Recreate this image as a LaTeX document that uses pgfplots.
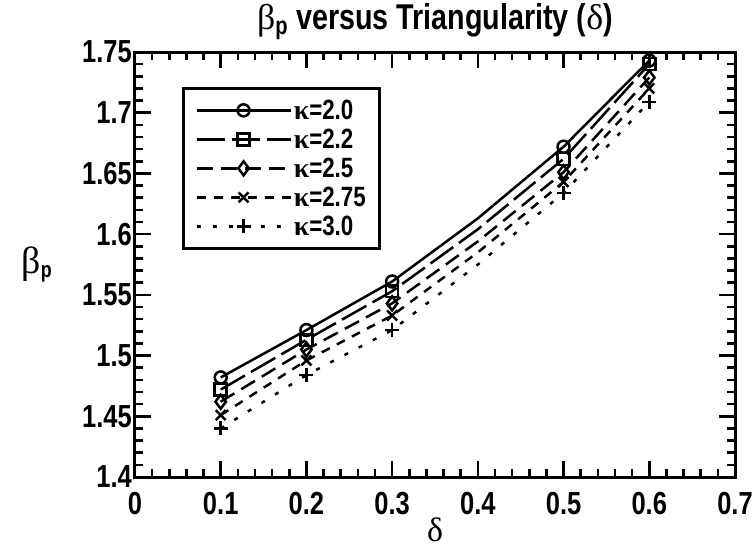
\documentclass[border=0pt]{standalone}
\usepackage{pgfplots}
\pgfplotsset{compat=1.18}
\usepackage{fontspec}
\setmainfont{Liberation Sans}
\newfontfamily\cond{Liberation Sans}[FakeStretch=0.8]
\newfontfamily\grk{Liberation Serif}

\begin{document}
\begin{tikzpicture}
\begin{axis}[
  name=ax,
  scale only axis,
  width=600bp, height=425bp,
  xmin=0, xmax=0.7, ymin=1.4, ymax=1.75,
  xtick={0,0.1,0.2,0.3,0.4,0.5,0.6,0.7},
  ytick={1.4,1.45,1.5,1.55,1.6,1.65,1.7,1.75},
  minor x tick num=4, minor y tick num=4,
  tick align=inside,
  major tick length=16bp, minor tick length=8bp,
  every tick/.style={black, line width=2.5bp},
  axis line style={line width=3bp},
  /pgf/number format/assume math mode=true,
  tick label style={font=\fontsize{32}{32}\cond\bfseries},
  xticklabel style={yshift=-12bp},
  yticklabel style={inner xsep=3bp},
  title={{\grk\mdseries β}\textsubscript{p} versus Triangularity ({\grk\mdseries δ})},
  title style={font=\fontsize{36}{36}\cond\bfseries, at={(0.5,1)}, anchor=base, yshift=17bp},
  xlabel={{\grk δ}},
  xlabel style={font=\fontsize{34}{34}\selectfont, at={(rel axis cs:0.5,0)}, anchor=center, yshift=-53bp},
  ylabel={{\grk\mdseries\fontsize{38}{38}\selectfont β}\textsubscript{p}},
  ylabel style={font=\fontsize{32}{32}\cond\bfseries, rotate=-90, at={(rel axis cs:0,0.5)}, anchor=center, xshift=-98bp},
  legend style={at={(rel axis cs:0.078,0.918)}, anchor=north west, draw=black, line width=3bp, fill=white,
    inner xsep=12bp, inner ysep=11bp, row sep=7bp,
    font=\fontsize{28}{28}\cond\bfseries,
    nodes={inner sep=2bp, text height=18bp, text depth=0bp}},
  legend cell align=left,
  legend image code/.code={\draw[mark indices={2}] plot coordinates {(0bp,0bp) (47bp,0bp) (94bp,0bp)};},
  every axis plot/.append style={black, line width=2.5bp, mark indices={1,2,3,5,6}, mark options={solid, line width=2.5bp}},
  clip=false,
]
% kappa = 2.0
\addplot[solid, mark=o, mark size=6bp] coordinates {
  (0.1,1.482) (0.2,1.521) (0.3,1.561) (0.4,1.613) (0.5,1.672) (0.6,1.743)};
\addlegendentry{{\grk κ}=2.0}
% kappa = 2.2
\addplot[dash pattern=on 28bp off 7bp, mark=square, mark size=6bp] coordinates {
  (0.1,1.472) (0.2,1.513) (0.3,1.553) (0.4,1.604) (0.5,1.662) (0.6,1.740)};
\addlegendentry{{\grk κ}=2.2}
% kappa = 2.5
\addplot[dash pattern=on 16bp off 8bp, mark=diamond, mark size=7bp] coordinates {
  (0.1,1.462) (0.2,1.505) (0.3,1.543) (0.4,1.594) (0.5,1.651) (0.6,1.729)};
\addlegendentry{{\grk κ}=2.5}
% kappa = 2.75
\addplot[dash pattern=on 9bp off 8bp, mark=x, mark size=7bp] coordinates {
  (0.1,1.451) (0.2,1.496) (0.3,1.533) (0.4,1.585) (0.5,1.643) (0.6,1.720)};
\addlegendentry{{\grk κ}=2.75}
% kappa = 3.0
\addplot[dash pattern=on 4bp off 12bp, mark=+, mark size=7bp] coordinates {
  (0.1,1.440) (0.2,1.484) (0.3,1.521) (0.4,1.575) (0.5,1.634) (0.6,1.709)};
\addlegendentry{{\grk κ}=3.0}
\end{axis}
\pgfresetboundingbox
\useasboundingbox ([shift={(-135bp,-73bp)}]ax.south west) rectangle ([shift={(21bp,52bp)}]ax.north east);
\end{tikzpicture}
\end{document}
